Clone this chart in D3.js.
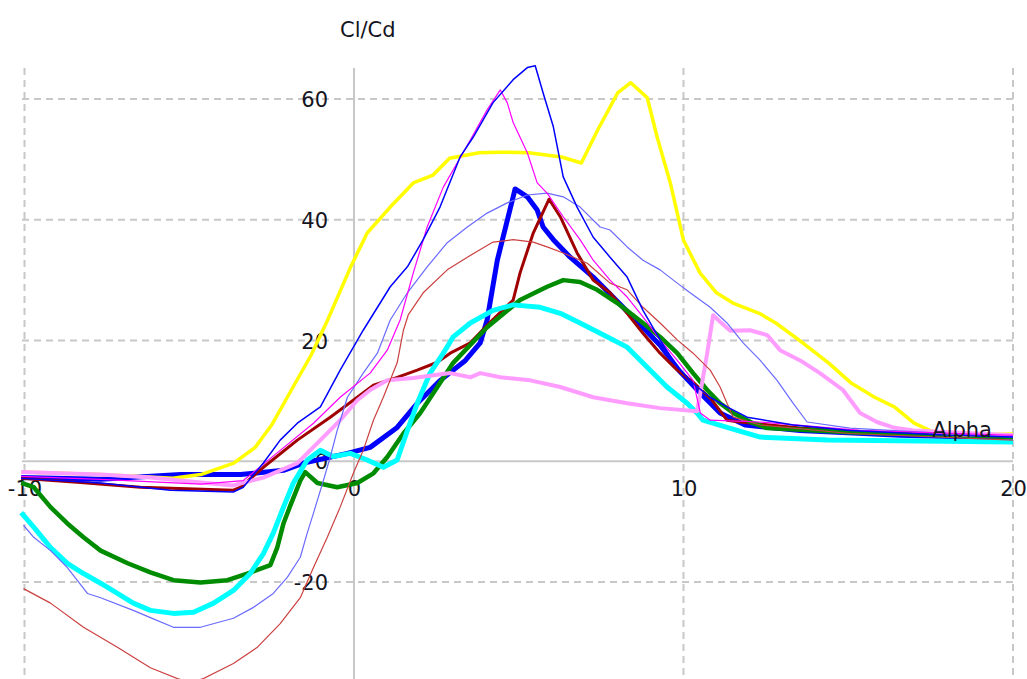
<!DOCTYPE html>
<html>
<head>
<meta charset="utf-8">
<script src="https://cdn.jsdelivr.net/npm/d3@7"></script>
<style>
  html, body { margin: 0; padding: 0; background: #fff; }
  svg { display: block; }
  text { font-family: "DejaVu Sans", Verdana, sans-serif; fill: #14141e; }
</style>
</head>
<body>
<svg id="chart" width="1027" height="679"></svg>
<script>
// ---- tick values ----
const xTicks = [-10, 0, 10, 20];
const yTicks = [-20, 0, 20, 40, 60];
const xTitle = "Alpha";
const yTitle = "Cl/Cd";

// ---- series: [alpha, Cl/Cd] ----
const yellowThick = [[-10.1,-1.8],[-7.7,-2.2],[-5.5,-2.8],[-4.65,-2.2],[-3.65,-0.3],[-3,2.3],[-2.5,6],[-1.9,11.8],[-1.3,17.6],[-0.8,23.4],[-0.1,32.2],[0.4,37.8],[1.1,42.1],[1.8,46.1],[2.4,47.4],[2.9,50.2],[3.8,51.1],[4.4,51.2],[5.3,51.1],[6.3,50.4],[6.9,49.4],[7.4,54.9],[8.0,61],[8.4,62.7],[8.9,60.2],[9.2,53.7],[9.6,46.1],[10.0,36.6],[10.5,31.2],[11.0,27.9],[11.5,26.2],[12.3,24.5],[12.8,22.9],[13.5,20.1],[14.4,16.3],[15.1,12.9],[15.8,10.6],[16.4,9.0],[17.0,6.3],[17.6,4.8],[18.4,4.3],[20,4.5]];

const pinkThick = [[-10.1,-1.8],[-7.69,-2.2],[-6.18,-2.7],[-5.05,-3.3],[-3.66,-4.0],[-2.75,-2.7],[-1.72,-0.3],[-1.02,3.5],[-0.42,6.8],[0.1,10.1],[0.49,11.8],[1.01,13.4],[1.8,13.8],[2.92,14.6],[3.53,13.9],[3.83,14.6],[4.44,13.9],[5.35,13.4],[6.26,12.3],[7.26,10.6],[8.29,9.6],[9.29,8.8],[10.41,8.3],[10.51,11.3],[10.72,17.9],[10.9,24.2],[11.11,23.1],[11.42,21.6],[12.02,21.7],[12.54,20.9],[12.93,18.4],[13.54,16.7],[14.14,14.6],[14.84,11.8],[15.36,8.0],[15.87,6.5],[16.36,5.6],[16.97,5.1],[20,4.3]];

const greenThick = [[-10.1,-3.6],[-9.72,-4.3],[-9.21,-7.6],[-8.7,-10.3],[-8.21,-12.6],[-7.69,-14.8],[-6.87,-16.9],[-6.18,-18.4],[-5.48,-19.7],[-4.66,-20.1],[-3.84,-19.7],[-3.24,-18.6],[-2.54,-17.2],[-2.33,-14.3],[-2.14,-10.3],[-1.93,-7.3],[-1.63,-3.2],[-1.48,-1.8],[-1.11,-3.6],[-0.51,-4.3],[0.1,-3.6],[0.59,-2.0],[1.01,0.7],[1.5,4.6],[2.01,8.0],[2.53,12.3],[3.01,16.3],[4.04,22.2],[5.04,26.7],[5.86,28.9],[6.35,30.0],[6.86,29.7],[7.38,28.4],[7.99,26.2],[8.77,22.9],[9.29,20.6],[9.81,17.9],[10.29,14.6],[10.72,11.8],[11.11,9.6],[11.51,8.0],[12.11,6.3],[12.54,5.5],[15.05,4.8],[20,4.0]];

const cyanThick = [[-10.1,-8.5],[-9.72,-10.9],[-9.21,-14.3],[-8.7,-16.9],[-8.21,-18.6],[-7.69,-20.2],[-7.18,-21.9],[-6.7,-23.5],[-6.18,-24.7],[-5.48,-25.2],[-4.87,-25.0],[-4.26,-23.5],[-3.66,-21.4],[-3.15,-18.6],[-2.75,-15.3],[-2.45,-11.9],[-2.14,-7.6],[-1.84,-3.6],[-1.42,0.2],[-1.02,1.8],[-0.63,0.8],[-0.11,1.3],[0.4,0.2],[0.89,-1.0],[1.31,0.2],[1.62,5.1],[1.92,9.6],[2.31,14.6],[2.71,17.9],[3.01,20.6],[3.53,22.9],[4.22,25.0],[4.83,25.9],[5.65,25.5],[6.26,24.5],[6.86,22.9],[7.47,21.2],[8.29,18.9],[8.89,15.6],[9.5,12.3],[10.11,9.6],[10.41,8.0],[10.59,6.8],[11.32,5.6],[12.33,4.0],[14.36,3.5],[20,3.2]];

const darkRedThick = [[-10.1,-2.8],[-8.3,-3.5],[-6.48,-4.3],[-3.66,-4.8],[-3.44,-4.3],[-2.75,-1.0],[-1.72,3.5],[-0.72,7.3],[0.1,10.6],[0.59,12.6],[1.31,13.9],[1.92,15.1],[2.53,16.4],[2.92,17.9],[3.53,19.6],[4.13,23.0],[4.83,26.7],[5.04,31.2],[5.44,37.8],[5.92,43.4],[6.26,40.5],[6.77,34.5],[7.26,30.0],[7.77,27.9],[8.29,24.5],[8.77,21.2],[9.29,17.9],[9.81,15.1],[10.29,13.1],[10.87,10.1],[11.32,6.8],[11.72,6.5],[13.54,5.5],[16.57,4.5],[20,4.0]];

const blueThick = [[-10.1,-2.7],[-7.69,-3.0],[-5.26,-2.2],[-3.44,-2.2],[-2.14,-1.5],[-1.53,-0.3],[-0.2,1.3],[0.49,2.3],[1.31,5.6],[1.92,9.6],[2.62,13.4],[3.38,16.7],[3.83,19.6],[4.04,23.4],[4.35,33.3],[4.68,40.5],[4.89,45.1],[5.26,43.8],[5.56,41.6],[5.74,38.8],[6.05,36.7],[6.56,33.8],[7.26,30.5],[7.86,27.2],[8.69,22.6],[9.29,19.2],[9.9,14.8],[10.51,11.3],[11.11,8.0],[11.87,6.0],[13.54,5.1],[16.57,4.3],[20,3.8]];

const redThin = [[-10.03,-21.1],[-9.21,-23.5],[-8.21,-27.5],[-7.18,-30.8],[-6.18,-34.2],[-5.36,-36.0],[-4.96,-36.6],[-4.57,-36.0],[-3.66,-33.5],[-2.93,-30.8],[-2.24,-26.9],[-1.63,-22.6],[-1.23,-17.6],[-0.81,-12.6],[-0.42,-7.6],[-0.02,-2.0],[0.28,1.8],[0.59,6.8],[0.89,10.6],[1.31,16.3],[1.5,21.7],[1.65,24.3],[2.1,27.9],[2.83,31.7],[3.44,33.8],[4.22,36.3],[4.83,36.7],[5.44,36.3],[5.86,35.5],[6.35,34.5],[7.08,32.8],[7.77,29.5],[8.29,28.4],[8.77,25.5],[9.29,22.9],[9.81,20.1],[10.29,17.9],[10.81,15.1],[11.11,12.3],[11.32,9.6],[11.51,7.3],[12.33,6.0],[15.05,4.6],[20,3.5]];

const slateThin = [[-10.03,-10.6],[-9.72,-12.6],[-9.21,-14.8],[-8.7,-17.6],[-8.09,-21.9],[-7.69,-22.6],[-6.7,-24.7],[-6.18,-25.9],[-5.48,-27.5],[-4.66,-27.5],[-3.66,-26.0],[-3.05,-24.2],[-2.45,-21.9],[-2.02,-19.2],[-1.63,-15.9],[-1.42,-11.9],[-1.23,-8.6],[-0.93,-3.2],[-0.72,0.7],[-0.51,5.1],[-0.2,10.6],[0.28,14.6],[0.71,17.9],[1.1,23.4],[1.62,27.9],[2.22,32.2],[2.83,36.2],[3.44,38.8],[4.04,41.1],[4.65,42.8],[5.26,44.1],[5.86,44.4],[6.35,43.8],[6.86,42.1],[7.47,38.8],[7.77,38.3],[8.29,35.5],[8.77,33.3],[9.29,31.7],[9.81,29.5],[10.2,27.9],[10.81,25.5],[11.32,22.9],[11.81,19.6],[12.33,16.7],[12.84,13.4],[13.33,9.6],[13.75,6.5],[15.05,5.5],[20,4.0]];

const magentaThin = [[-10.1,-2.5],[-7.69,-3.0],[-4.66,-3.8],[-3.36,-3.2],[-2.24,1.8],[-1.23,6.3],[-0.42,10.6],[0.49,14.6],[1.01,18.4],[1.4,23.4],[1.8,31.2],[2.22,38.8],[2.71,45.4],[3.31,51.1],[3.53,53.2],[4.04,58.2],[4.44,61.5],[4.65,59.4],[4.83,56.1],[5.26,51.1],[5.56,46.1],[5.86,44.4],[6.35,40.5],[6.86,36.7],[7.26,33.3],[7.77,30.0],[8.29,27.2],[8.77,23.9],[9.29,20.1],[9.81,16.7],[10.29,13.4],[10.51,8.0],[10.81,6.8],[12.33,6.5],[15.36,5.1],[20,4.3]];

const blueThin = [[-10.1,-2.8],[-7.69,-3.6],[-5.57,-4.8],[-3.66,-5.1],[-3.36,-4.3],[-2.75,-0.3],[-2.24,3.5],[-1.72,6.3],[-1.02,9.0],[-0.42,15.1],[0.28,21.7],[1.1,28.9],[1.62,32.2],[2.1,36.7],[2.61,42.1],[3.22,50.4],[3.62,53.7],[4.22,59.4],[4.83,63.2],[5.26,65.2],[5.5,65.5],[5.74,61.0],[6.05,55.4],[6.35,47.1],[6.77,42.1],[7.26,37.1],[7.77,33.8],[8.29,30.5],[8.77,25.0],[9.29,20.1],[9.81,15.6],[10.29,12.9],[10.81,10.6],[11.32,9.0],[11.93,7.3],[13.33,6.0],[15.05,5.1],[18.1,4.3],[20,4.0]];

// drawing order follows the reference (thick blue lies underneath)
const seriesList = [
  { data: blueThick,    color: "#0000ff", width: 5 },
  { data: darkRedThick, color: "#a00000", width: 3 },
  { data: greenThick,   color: "#008c00", width: 4.5 },
  { data: cyanThick,    color: "#00ffff", width: 5 },
  { data: yellowThick,  color: "#ffff00", width: 3.5 },
  { data: pinkThick,    color: "#ff9cff", width: 4 },
  { data: redThin,      color: "#cc4040", width: 1.2 },
  { data: slateThin,    color: "#6a6aff", width: 1.2 },
  { data: magentaThin,  color: "#ff00ff", width: 1.2 },
  { data: blueThin,     color: "#0000ff", width: 1.5 }
];

// ---- layout ----
const svg = d3.select("#chart");
const W = 1027, H = 679;
const plotTop = 68, plotBottom = 679, plotLeft = 22, plotRight = 1013;

const x = d3.scaleLinear().domain([-10, 20]).range([24.5, 1013]);
const y = d3.scaleLinear().domain([-20, 60]).range([582, 99]);

const gridColor = "#c8c8c8";
const fmt = d => String(d);

// vertical dashed gridlines
svg.append("g").selectAll("line")
  .data(xTicks.filter(d => d !== 0))
  .join("line")
  .attr("x1", d => x(d)).attr("x2", d => x(d))
  .attr("y1", plotTop).attr("y2", plotBottom)
  .attr("stroke", gridColor).attr("stroke-width", 2)
  .attr("stroke-dasharray", "7,5");

// horizontal dashed gridlines
svg.append("g").selectAll("line")
  .data(yTicks.filter(d => d !== 0))
  .join("line")
  .attr("x1", plotLeft).attr("x2", plotRight)
  .attr("y1", d => y(d)).attr("y2", d => y(d))
  .attr("stroke", gridColor).attr("stroke-width", 2)
  .attr("stroke-dasharray", "7,5");

// axes lines through the origin
svg.append("line")
  .attr("x1", x(0)).attr("x2", x(0))
  .attr("y1", plotTop).attr("y2", plotBottom)
  .attr("stroke", gridColor).attr("stroke-width", 2);
svg.append("line")
  .attr("x1", plotLeft).attr("x2", plotRight)
  .attr("y1", y(0)).attr("y2", y(0))
  .attr("stroke", gridColor).attr("stroke-width", 2);

// tick labels (d3 axes with their lines hidden)
const fontSize = 21;
const yAxis = svg.append("g")
  .attr("transform", `translate(${x(0) - 26},0)`)
  .call(d3.axisLeft(y).tickValues(yTicks).tickSize(0).tickPadding(0).tickFormat(fmt));
yAxis.select(".domain").remove();
yAxis.selectAll("text")
  .attr("font-size", fontSize)
  .attr("font-family", "DejaVu Sans, Verdana, sans-serif")
  .attr("fill", "#14141e")
  .attr("dy", "0.36em");

const xAxis = svg.append("g")
  .attr("transform", `translate(0,${y(0) + 20})`)
  .call(d3.axisBottom(x).tickValues(xTicks).tickSize(0).tickPadding(0).tickFormat(fmt));
xAxis.select(".domain").remove();
xAxis.selectAll("text")
  .attr("font-size", fontSize)
  .attr("font-family", "DejaVu Sans, Verdana, sans-serif")
  .attr("fill", "#14141e")
  .attr("dy", "0.72em");

// clip for data
svg.append("clipPath").attr("id", "plotClip")
  .append("rect").attr("x", 0).attr("y", plotTop - 5)
  .attr("width", W).attr("height", plotBottom - plotTop + 5);

const line = d3.line().x(d => x(d[0])).y(d => y(d[1]));

const lines = svg.append("g").attr("clip-path", "url(#plotClip)");
lines.selectAll("path")
  .data(seriesList)
  .join("path")
  .attr("d", d => line(d.data))
  .attr("fill", "none")
  .attr("stroke", d => d.color)
  .attr("stroke-width", d => d.width)
  .attr("stroke-linejoin", "round")
  .attr("stroke-linecap", "butt");

// axis titles
svg.append("text")
  .attr("x", 340).attr("y", 37)
  .attr("font-size", fontSize)
  .text(yTitle);
svg.append("text")
  .attr("x", 992).attr("y", 437)
  .attr("text-anchor", "end")
  .attr("font-size", fontSize)
  .text(xTitle);
</script>
</body>
</html>
